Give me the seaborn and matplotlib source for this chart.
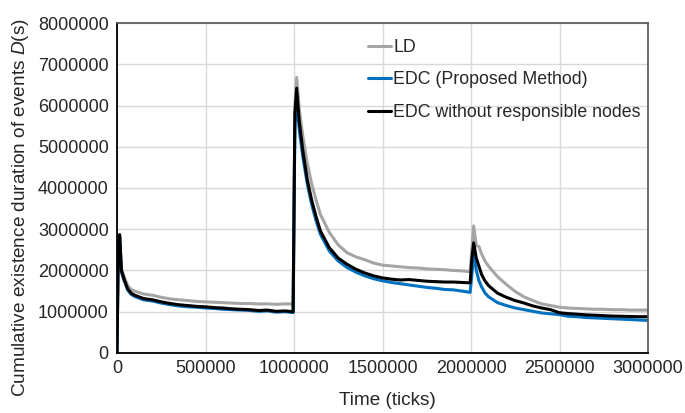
"""
Cumulative existence duration of events over time
"""
import pandas as pd
import seaborn as sns
import matplotlib.pyplot as plt

# time axis (ticks)
time_ticks = [
    0, 8000, 15000, 25000, 40000, 60000, 80000, 100000, 150000, 200000,
    250000, 300000, 350000, 400000, 450000, 500000, 550000, 600000, 650000, 700000,
    750000, 800000, 850000, 900000, 950000, 995000,
    1005000, 1015000, 1030000, 1050000, 1075000, 1100000, 1125000, 1150000, 1200000, 1250000,
    1300000, 1350000, 1400000, 1450000, 1500000, 1550000, 1600000, 1650000, 1700000, 1750000,
    1800000, 1850000, 1900000, 1950000, 1995000,
    2005000, 2015000, 2030000, 2045000, 2060000, 2080000, 2100000, 2150000, 2200000, 2250000,
    2300000, 2350000, 2400000, 2450000, 2500000, 2550000, 2600000, 2650000, 2700000, 2750000,
    2800000, 2850000, 2900000, 2950000, 3000000,
]

ld = [
    0, 2780000, 2850000, 2050000, 1850000, 1640000, 1540000, 1500000, 1430000, 1400000,
    1350000, 1310000, 1290000, 1270000, 1250000, 1240000, 1230000, 1220000, 1210000, 1200000,
    1200000, 1190000, 1190000, 1180000, 1190000, 1190000,
    6000000, 6680000, 5900000, 5250000, 4600000, 4100000, 3700000, 3350000, 2920000, 2620000,
    2430000, 2330000, 2260000, 2180000, 2130000, 2110000, 2090000, 2070000, 2060000, 2040000,
    2030000, 2020000, 2000000, 1990000, 1970000,
    2500000, 3080000, 2600000, 2580000, 2400000, 2220000, 2100000, 1850000, 1660000, 1490000,
    1360000, 1270000, 1190000, 1150000, 1110000, 1090000, 1080000, 1070000, 1060000, 1060000,
    1050000, 1050000, 1040000, 1040000, 1040000,
]

edc = [
    0, 2750000, 2830000, 1960000, 1760000, 1530000, 1420000, 1370000, 1290000, 1260000,
    1210000, 1170000, 1140000, 1120000, 1110000, 1090000, 1080000, 1060000, 1050000, 1040000,
    1030000, 1010000, 1020000, 990000, 1000000, 980000,
    5500000, 6150000, 5400000, 4750000, 4100000, 3600000, 3200000, 2870000, 2470000, 2230000,
    2070000, 1960000, 1870000, 1800000, 1750000, 1710000, 1680000, 1650000, 1620000, 1590000,
    1570000, 1540000, 1530000, 1500000, 1470000,
    1900000, 2420000, 2000000, 1750000, 1600000, 1450000, 1360000, 1220000, 1150000, 1090000,
    1050000, 1010000, 970000, 950000, 930000, 890000, 880000, 860000, 850000, 840000,
    830000, 820000, 810000, 800000, 790000,
]

edc_no_resp = [
    0, 2800000, 2870000, 2000000, 1790000, 1560000, 1450000, 1400000, 1320000, 1290000,
    1240000, 1200000, 1170000, 1150000, 1130000, 1120000, 1100000, 1090000, 1070000, 1060000,
    1050000, 1030000, 1040000, 1010000, 1020000, 1000000,
    5800000, 6420000, 5600000, 4900000, 4200000, 3700000, 3300000, 2950000, 2550000, 2300000,
    2150000, 2030000, 1940000, 1870000, 1820000, 1790000, 1770000, 1780000, 1760000, 1740000,
    1730000, 1720000, 1720000, 1710000, 1700000,
    2300000, 2670000, 2300000, 2100000, 1900000, 1740000, 1630000, 1450000, 1350000, 1270000,
    1210000, 1140000, 1090000, 1050000, 975000, 955000, 940000, 925000, 915000, 905000,
    895000, 890000, 885000, 880000, 880000,
]

series_names = ['LD', 'EDC (Proposed Method)', 'EDC without responsible nodes']
series_values = [ld, edc, edc_no_resp]
colors = {'LD': '#A5A5A5', 'EDC (Proposed Method)': '#0070C0',
          'EDC without responsible nodes': '#000000'}


def main():
    sns.set_theme(style='white')
    plt.rcParams['font.family'] = ['Liberation Sans', 'DejaVu Sans']
    plt.rcParams['mathtext.fontset'] = 'custom'
    plt.rcParams['mathtext.it'] = 'Liberation Sans:italic'

    df = pd.concat([pd.DataFrame({'time': time_ticks, 'value': vals, 'series': name})
                    for name, vals in zip(series_names, series_values)])

    fig = plt.figure(figsize=(6.85, 4.13), dpi=100)
    ax = fig.add_axes([0.1708, 0.1453, 0.7752, 0.7990])

    sns.lineplot(data=df, x='time', y='value', hue='series', hue_order=series_names,
                 palette=colors, linewidth=2.2, estimator=None, sort=False, ax=ax)

    ax.set_xlim(0, 3000000)
    ax.set_ylim(0, 8000000)
    ax.set_xticks(range(0, 3000001, 500000))
    ax.set_yticks(range(0, 8000001, 1000000))
    ax.set_xticklabels([str(v) for v in range(0, 3000001, 500000)])
    ax.set_yticklabels([str(v) for v in range(0, 8000001, 1000000)])
    ax.tick_params(labelsize=13, length=0)
    ax.tick_params(axis='x', pad=5)
    ax.tick_params(axis='y', pad=6)
    ax.grid(True, color='#D9D9D9', linewidth=1)
    ax.set_axisbelow(True)

    for side in ['left', 'bottom']:
        ax.spines[side].set_color('black')
        ax.spines[side].set_linewidth(1.3)
    ax.spines['top'].set_color('#595959')
    ax.spines['right'].set_color('#595959')

    ax.set_xlabel('Time (ticks)', fontsize=13.7, labelpad=11)
    ax.set_ylabel('Cumulative existence duration of events $D$(s)', fontsize=13.7, labelpad=5)
    ax.xaxis.label.set_x(0.509)
    ax.yaxis.label.set_y(0.44)

    leg = ax.legend(loc='upper left', bbox_to_anchor=(0.443, 1.0), frameon=False,
                    fontsize=12.8, handlelength=1.3, handletextpad=0.1, labelspacing=0.87)
    for line in leg.get_lines():
        line.set_linewidth(2.2)

    plt.savefig('out.png', dpi=100)


if __name__ == "__main__":
    main()
